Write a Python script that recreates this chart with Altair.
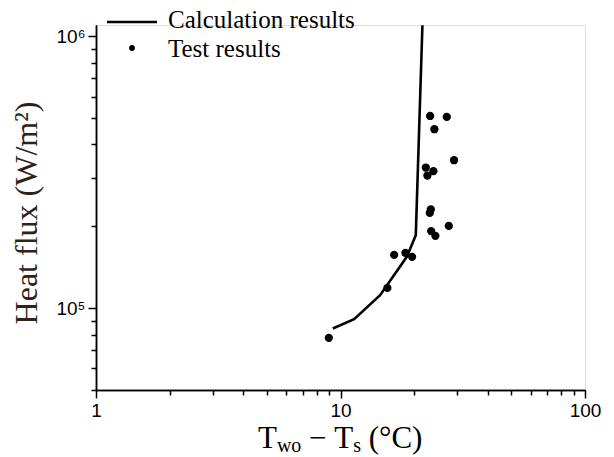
import altair as alt
import pandas as pd

# ---- data ----
calc_x = [9.30, 11.37, 14.52, 18.67, 20.32, 21.63]
calc_y = [84200, 91100, 111600, 154400, 185600, 1097500]

test_x = [8.96, 15.55, 16.57, 18.43, 19.63, 23.48, 24.44, 27.73, 23.41, 23.18,
          22.33, 23.99, 22.67, 29.14, 23.26, 27.21, 24.21]
test_y = [77800, 118700, 157000, 159700, 154400, 192000, 184500, 200700, 230700, 224000,
          329000, 319000, 307500, 350000, 509000, 505000, 455000]

x_major = [1, 10, 100]
x_minor = [2, 3, 4, 5, 6, 7, 8, 9, 20, 30, 40, 50, 60, 70, 80, 90]
y_major = [100000, 1000000]
y_minor = [50000, 60000, 70000, 80000, 90000, 200000, 300000, 400000,
           500000, 600000, 700000, 800000, 900000]
legend_labels = ["Calculation results", "Test results"]
y_title = "Heat flux (W/m²)"
x_title_parts = ["T", "wo", "−", "T", "s", "(°C)"]

W, H = 489, 365
PAD_L, PAD_T = 96, 25
SERIF = "Liberation Serif"
SANS = "Liberation Sans"

calc = pd.DataFrame({"x": calc_x, "y": calc_y})
test = pd.DataFrame({"x": test_x, "y": test_y})

xscale = alt.Scale(type="log", domain=[1, 100], nice=False)
yscale = alt.Scale(type="log", domain=[50000, 1100000], nice=False)

common = dict(title=None, grid=False, labelOverlap=False, labelFlush=False, ticks=True,
              tickColor="black", tickWidth=1.5, domainColor="black", domainWidth=1.5)

xaxis_major = alt.Axis(
    values=x_major, orient="bottom", format="d",
    labelFont=SANS, labelFontSize=19, labelColor="black", labelPadding=3,
    tickSize=8, **common)
yaxis_major = alt.Axis(
    values=y_major, orient="left",
    labelExpr="datum.value == 100000 ? '10⁵' : '10⁶'",
    labelFont=SANS, labelFontSize=19, labelColor="black", labelPadding=3,
    tickSize=8, **common)
xaxis_minor = alt.Axis(values=x_minor, orient="bottom", labels=False, tickSize=5, **common)
yaxis_minor = alt.Axis(values=y_minor, orient="left", labels=False, tickSize=5, **common)

line = alt.Chart(calc).mark_line(color="black", strokeWidth=2.6).encode(
    x=alt.X("x:Q", scale=xscale, axis=xaxis_major),
    y=alt.Y("y:Q", scale=yscale, axis=yaxis_major),
)
pts = alt.Chart(test).mark_circle(size=68, color="black", opacity=1).encode(
    x=alt.X("x:Q", scale=xscale, axis=xaxis_minor),
    y=alt.Y("y:Q", scale=yscale, axis=yaxis_minor),
)

one = alt.Data(values=[{}])


def txt(text, x, y, size, font=SERIF, color="black", align="left", baseline="alphabetic", angle=0):
    kw = dict(text=text, font=font, fontSize=size, color=color, align=align, baseline=baseline)
    if angle:
        kw["angle"] = angle
    return alt.Chart(one).mark_text(**kw).encode(x=alt.value(x), y=alt.value(y))


# legend
leg_line = alt.Chart(one).mark_rule(color="black", strokeWidth=2.6).encode(
    x=alt.value(11), x2=alt.value(61), y=alt.value(-3))
leg_dot = alt.Chart(one).mark_circle(size=34, color="black", opacity=1).encode(
    x=alt.value(36), y=alt.value(23))
leg_t1 = txt(legend_labels[0], 72, 3, 25)
leg_t2 = txt(legend_labels[1], 72, 32, 25)

# axis titles
ytit = txt(y_title, -69, 188, 32, color="#2b2418", align="center", baseline="middle", angle=270)
MAIN, SUB = 31, 20
xb, xs = 423, 427
xt = [
    txt(x_title_parts[0], 162, xb, MAIN),
    txt(x_title_parts[1], 180.9, xs, SUB),
    txt(x_title_parts[2], 213.0, xb, MAIN),
    txt(x_title_parts[3], 238.3, xb, MAIN),
    txt(x_title_parts[4], 257.2, xs, SUB),
    txt(x_title_parts[5], 272.7, xb, MAIN),
]

chart = alt.layer(line, pts, leg_line, leg_dot, leg_t1, leg_t2, ytit, *xt).resolve_axis(
    x="independent", y="independent"
).properties(
    width=W, height=H,
    autosize=alt.AutoSizeParams(type="none"),
    padding={"left": PAD_L, "top": PAD_T, "right": 614 - PAD_L - W, "bottom": 457 - PAD_T - H},
).configure_view(stroke=None).configure(background="white")

chart.save("out.html", embed_options={"renderer": "svg", "actions": False})
